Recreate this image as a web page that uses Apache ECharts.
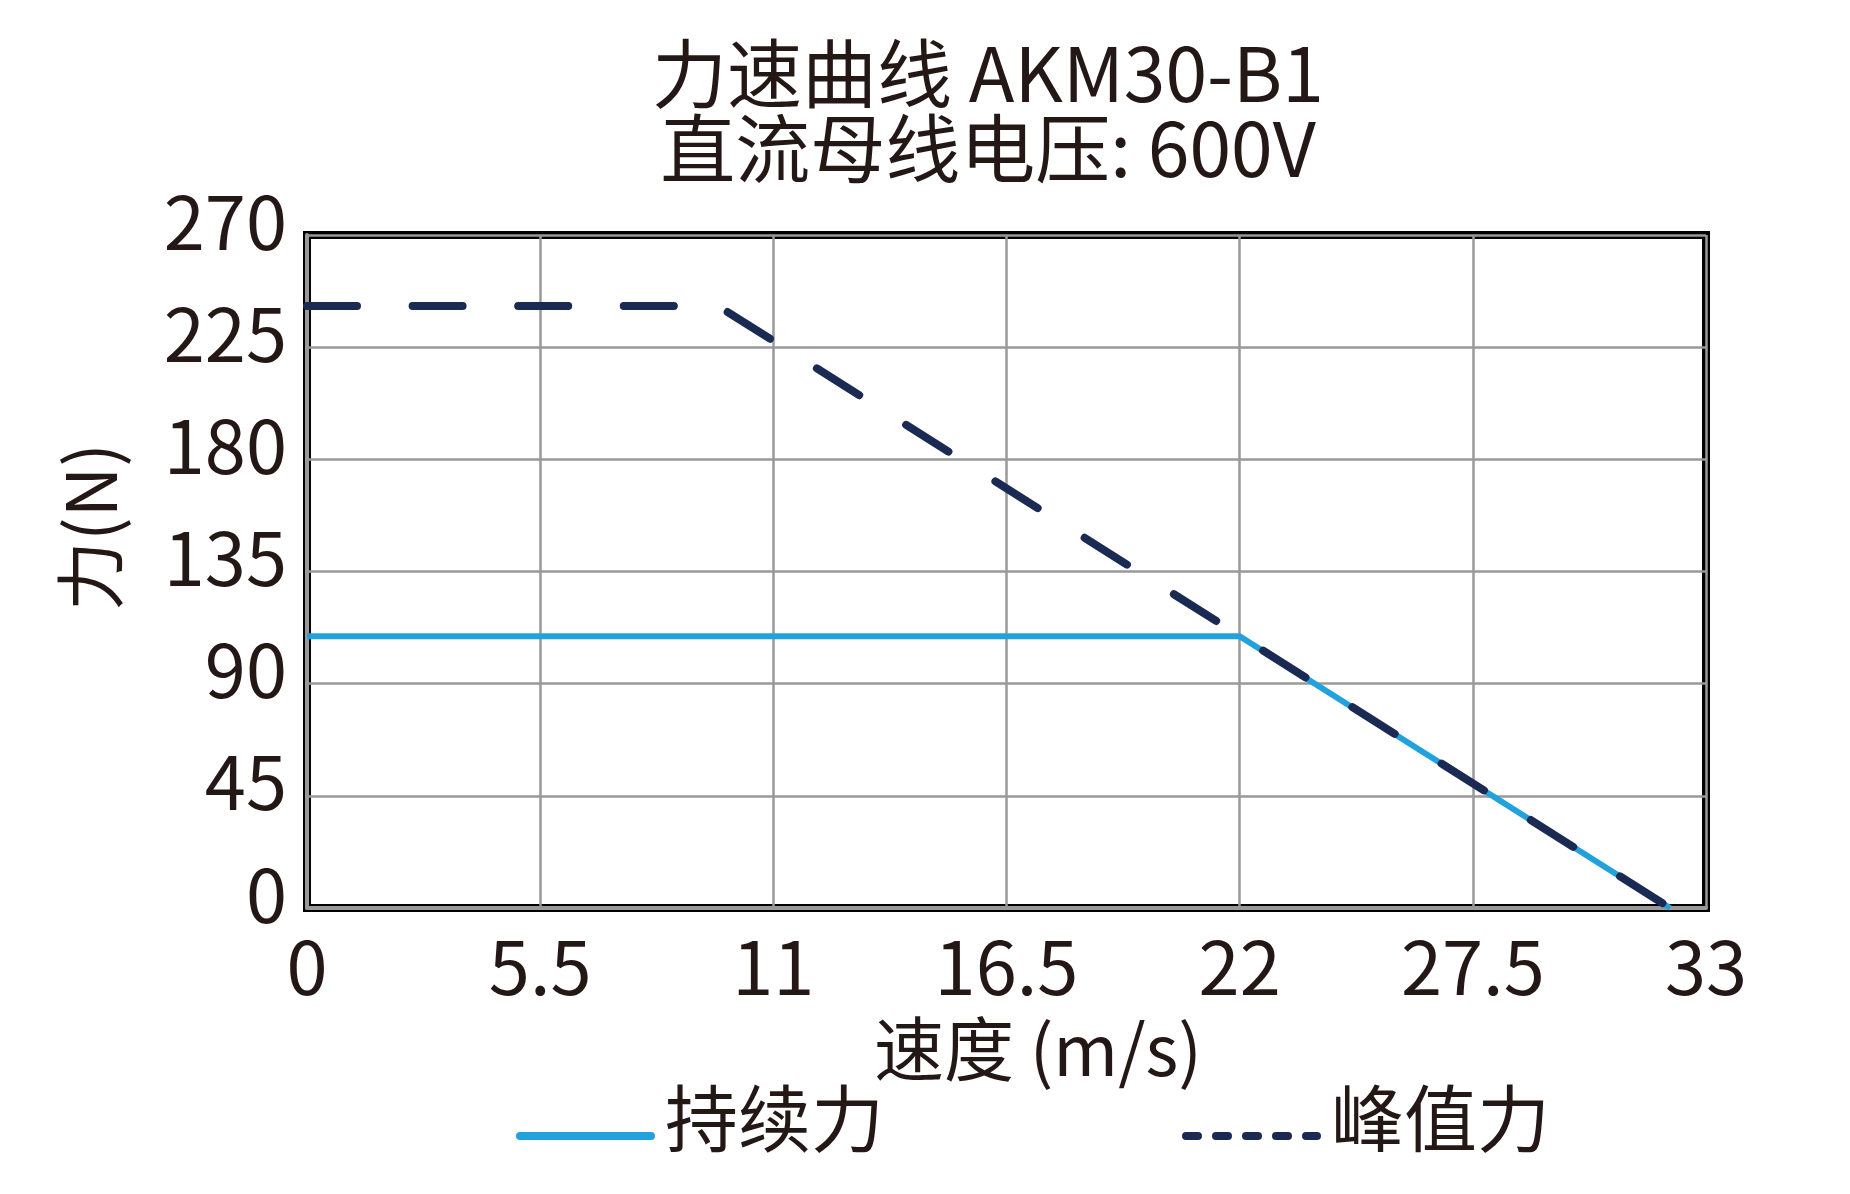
<!DOCTYPE html>
<html lang="zh">
<head>
    <meta charset="UTF-8">
    <title>力速曲线 AKM30-B1</title>
    <script src="https://cdn.jsdelivr.net/npm/echarts@6/dist/echarts.min.js"></script>
    <style>
        html, body { margin: 0; padding: 0; background: #fff; }
    </style>
</head>
<body>
<div id="main" style="width: 1850px;height:1194px;"></div>
<script type="text/javascript">
    // 数据
    var seriesNames = ['持续力', '峰值力'];
    var contSpeed = [0, 22, 32.15];
    var contForce = [109, 109, 0];
    var peakSpeed = [0, 9.7, 32.15];
    var peakForce = [241.5, 241.5, 0];

    var FONT = '"Noto Sans CJK SC", "Noto Sans", sans-serif';
    var TXT = '#231815';
    var BLUE = '#22a2dc';
    var NAVY = '#1b2a52';

    function pairs(xs, ys) {
        return xs.map(function (x, i) { return [x, ys[i]]; });
    }

    var myChart = echarts.init(document.getElementById('main'));

    var option = {
        backgroundColor: '#fff',
        animation: false,
        title: {
            text: '力速曲线 AKM30-B1\n直流母线电压: 600V',
            left: 988,
            top: 36,
            padding: 0,
            textAlign: 'center',
            textStyle: {
                fontFamily: FONT,
                fontSize: 75,
                lineHeight: 75,
                fontWeight: 'normal',
                color: TXT
            }
        },
        legend: {
            left: 511,
            top: 1077,
            itemWidth: 131,
            itemHeight: 20,
            itemGap: 298,
            // 末尾换行让文字比图例线略高
            formatter: '{name}\n',
            data: [
                { name: seriesNames[0], itemStyle: { opacity: 0 }, lineStyle: { width: 8, type: 'solid', cap: 'round', color: BLUE } },
                { name: seriesNames[1], itemStyle: { opacity: 0 }, lineStyle: { width: 8, type: [12, 18], cap: 'round', color: NAVY } }
            ],
            textStyle: {
                fontFamily: FONT,
                fontSize: 73,
                lineHeight: 35,
                color: TXT,
                padding: [0, 0, 0, 9]
            }
        },
        grid: {
            left: 307,
            right: 144,
            top: 235,
            bottom: 286,
            show: true,
            borderColor: '#000',
            borderWidth: 8
        },
        xAxis: {
            type: 'value',
            min: 0,
            max: 33,
            interval: 5.5,
            z: 5,
            axisLine: { lineStyle: { color: '#999', width: 4 } },
            axisTick: { show: false },
            splitLine: { lineStyle: { color: '#999', width: 2.5 } },
            axisLabel: {
                margin: 22,
                fontFamily: FONT,
                fontSize: 74,
                color: TXT
            }
        },
        yAxis: {
            type: 'value',
            min: 0,
            max: 270,
            interval: 45,
            z: 5,
            axisLine: { lineStyle: { color: '#999', width: 4 } },
            axisTick: { show: false },
            splitLine: { lineStyle: { color: '#999', width: 2.5 } },
            axisLabel: {
                margin: 20,
                fontFamily: FONT,
                fontSize: 74,
                color: TXT,
                verticalAlign: 'bottom',
                lineHeight: 27
            }
        },
        graphic: [
            {
                type: 'text',
                x: 1038,
                y: 1049,
                style: {
                    text: '速度 (m/s)',
                    fontFamily: FONT,
                    fontSize: 70,
                    fill: TXT,
                    align: 'center',
                    verticalAlign: 'middle'
                }
            },
            {
                type: 'text',
                x: 90,
                y: 527,
                rotation: Math.PI / 2,
                style: {
                    text: '力(N)',
                    fontFamily: FONT,
                    fontSize: 70,
                    fill: TXT,
                    align: 'center',
                    verticalAlign: 'middle'
                }
            }
        ],
        series: [
            {
                name: seriesNames[0],
                type: 'line',
                symbol: 'none',
                z: 6,
                lineStyle: { color: BLUE, width: 6 },
                itemStyle: { color: BLUE },
                data: pairs(contSpeed, contForce)
            },
            {
                name: seriesNames[1],
                type: 'line',
                symbol: 'none',
                z: 7,
                lineStyle: { color: NAVY, width: 8, type: [50, 55.6], cap: 'round' },
                itemStyle: { color: NAVY },
                data: pairs(peakSpeed, peakForce)
            }
        ]
    };

    myChart.setOption(option);
</script>
</body>
</html>
